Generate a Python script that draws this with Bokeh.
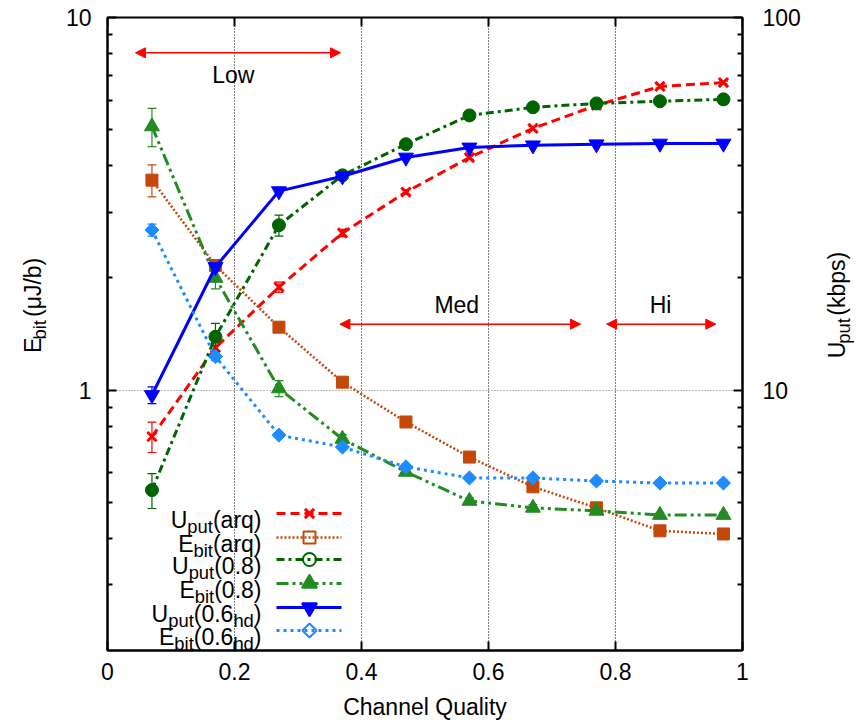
import math
from bokeh.plotting import figure
from bokeh.layouts import row
from bokeh.models import (Range1d, LogScale, LinearScale, LogAxis,
                          FixedTicker, BasicTickFormatter, Label, Arrow, NormalHead)
from bokeh.embed import file_html
from bokeh.resources import INLINE

# ---------------- data ----------------
x = [0.07, 0.17, 0.27, 0.37, 0.47, 0.57, 0.67, 0.77, 0.87, 0.97]

uput_arq = [7.5, 13.0, 18.9, 26.4, 34.0, 42.1, 50.4, 58.1, 65.3, 66.9]
uput_arq_err = [0.7, 0.5, 0.6, 0.6, 0.5, 0.5, 0.6, 0.6, 0.6, 0.6]
ebit_arq = [3.66, 2.16, 1.475, 1.05, 0.821, 0.661, 0.550, 0.483, 0.419, 0.411]
ebit_arq_err = [0.36, 0.08, 0.03, 0.02, 0.015, 0.01, 0.01, 0.01, 0.008, 0.008]
uput_08 = [5.39, 13.9, 27.7, 37.7, 45.7, 54.6, 57.4, 58.8, 59.6, 60.3]
uput_08_err = [0.58, 1.2, 1.8, 0.6, 0.5, 0.5, 0.5, 0.5, 0.5, 0.5]
ebit_08 = [5.10, 2.0, 1.01, 0.739, 0.603, 0.504, 0.483, 0.474, 0.462, 0.462]
ebit_08_err = [0.6, 0.13, 0.05, 0.02, 0.01, 0.01, 0.01, 0.01, 0.008, 0.008]
uput_06hd = [9.7, 21.4, 34.2, 37.5, 42.1, 44.8, 45.4, 45.7, 45.9, 45.9]
uput_06hd_err = [0.5, 0.4, 0.4, 0.4, 0.3, 0.3, 0.3, 0.3, 0.3, 0.3]
ebit_06hd = [2.69, 1.23, 0.757, 0.703, 0.622, 0.581, 0.581, 0.570, 0.563, 0.563]
ebit_06hd_err = [0.1, 0.03, 0.01, 0.01, 0.01, 0.01, 0.01, 0.01, 0.01, 0.01]

x_ticks = [0, 0.2, 0.4, 0.6, 0.8, 1]
x_tick_labels = ["0", "0.2", "0.4", "0.6", "0.8", "1"]
left_ticks = [1, 10]
left_tick_labels = ["1", "10"]
left_minor = [0.3, 0.4, 0.5, 0.6, 0.7, 0.8, 0.9, 2, 3, 4, 5, 6, 7, 8, 9]
right_ticks = [10, 100]
right_tick_labels = ["10", "100"]
right_minor = [3, 4, 5, 6, 7, 8, 9, 20, 30, 40, 50, 60, 70, 80, 90]

region_names = ["Low", "Med", "Hi"]
region_start = [0.044, 0.366, 0.786]
region_end = [0.367, 0.745, 0.958]
region_arrow_y = [8.04, 1.503, 1.503]
region_label_x = [0.198, 0.55, 0.871]
region_label_y = [7.03, 1.69, 1.69]

x_title = "Channel Quality"
left_title = [("E", 0), ("bit", 1), (" (μJ/b)", 0)]
right_title = [("U", 0), ("put", 1), (" (kbps)", 0)]

# ---------------- layout / style ----------------
FONT = "Liberation Sans"
FS = 23
SUB = 18.4
SUBOFF = 7
H = 724                      # canvas height
LW = 60                      # left title strip width
PW = 746                     # main figure width
RW = 50                      # right title strip width
FL, FT, FW, FH = 107, 17, 635, 633   # frame position on page
FB = FT + FH

W = {'U': 722, 'E': 667, 'p': 556, 'u': 556, 't': 278, 'b': 556, 'i': 222,
     '(': 333, ')': 333, 'a': 556, 'r': 333, 'q': 556, '0': 556, '.': 278,
     '8': 556, '6': 556, 'h': 556, 'd': 556, ' ': 278, 'μ': 576, 'J': 500,
     '/': 278, 'k': 500, 's': 500}


def tw(s, size):
    return sum(W.get(c, 556) for c in s) * size / 1000.0


p = figure(width=PW, height=H, frame_width=FW, frame_height=FH,
           min_border_left=FL - LW, min_border_right=PW - (FL - LW) - FW,
           min_border_top=FT, min_border_bottom=H - FB,
           x_range=Range1d(0, 1), y_range=Range1d(0.2, 10), y_axis_type="log",
           output_backend="svg", toolbar_location=None)
p.extra_y_ranges = {"right": Range1d(2, 100), "py": Range1d(0, FH)}
p.extra_x_ranges = {"px": Range1d(0, FW)}
p.extra_y_scales = {"right": LogScale(), "py": LinearScale()}
p.extra_x_scales = {"px": LinearScale()}

p.outline_line_color = "black"
p.outline_line_width = 2
p.background_fill_color = "white"
p.border_fill_color = "white"


def style_axis(ax, standoff):
    ax.axis_line_width = 2
    ax.major_tick_in = 9
    ax.major_tick_out = 0
    ax.minor_tick_in = 5
    ax.minor_tick_out = 0
    ax.major_tick_line_width = 2
    ax.minor_tick_line_width = 2
    ax.major_label_text_font = FONT
    ax.major_label_text_font_size = f"{FS}px"
    ax.major_label_text_color = "black"
    ax.major_label_standoff = standoff


xa = p.xaxis[0]
xa.ticker = FixedTicker(ticks=x_ticks)
xa.formatter = BasicTickFormatter()
xa.major_label_overrides = dict(zip(x_ticks, x_tick_labels))
style_axis(xa, 12)
xa.minor_tick_line_color = None
xa.axis_label = x_title
xa.axis_label_text_font = FONT
xa.axis_label_text_font_size = f"{FS}px"
xa.axis_label_text_font_style = "normal"
xa.axis_label_text_color = "black"
xa.axis_label_standoff = 11

ya = p.yaxis[0]
ya.ticker = FixedTicker(ticks=left_ticks, minor_ticks=left_minor)
ya.formatter = BasicTickFormatter()
ya.major_label_overrides = dict(zip(left_ticks, left_tick_labels))
style_axis(ya, 16)

ra = LogAxis(y_range_name="right", ticker=FixedTicker(ticks=right_ticks, minor_ticks=right_minor),
             formatter=BasicTickFormatter())
ra.major_label_overrides = dict(zip(right_ticks, right_tick_labels))
style_axis(ra, 20)
p.add_layout(ra, "right")

# mirrored major ticks on the top edge
p.segment(x0=x_ticks, y0=[FH] * len(x_ticks), x1=x_ticks, y1=[FH - 9] * len(x_ticks),
          line_color="black", line_width=2, y_range_name="py")

p.xgrid.ticker = FixedTicker(ticks=[0.2, 0.4, 0.6, 0.8])
p.xgrid.grid_line_color = "black"
p.xgrid.grid_line_dash = "1 2"
p.xgrid.grid_line_width = 1
p.ygrid.ticker = FixedTicker(ticks=[1])
p.ygrid.grid_line_color = "#777777"
p.ygrid.grid_line_dash = "1 2"
p.ygrid.grid_line_width = 1

# ---------------- series ----------------
series = [
    dict(lab=[("U", 0), ("put", 1), ("(arq)", 0)], y=uput_arq, e=uput_arq_err, rng="right",
         color="#ff0000", dash="9 5", lw=3, marker="x", size=13, angle=0, open=False),
    dict(lab=[("E", 0), ("bit", 1), ("(arq)", 0)], y=ebit_arq, e=ebit_arq_err, rng=None,
         color="#c4480a", dash="2 2", lw=2.5, marker="square", size=12, angle=0, open=True),
    dict(lab=[("U", 0), ("put", 1), ("(0.8)", 0)], y=uput_08, e=uput_08_err, rng="right",
         color="#006400", dash="8 4 3 4", lw=3, marker="circle", size=13, angle=0, open=True),
    dict(lab=[("E", 0), ("bit", 1), ("(0.8)", 0)], y=ebit_08, e=ebit_08_err, rng=None,
         color="#228b22", dash="12 4 3 4 3 4", lw=3, marker="triangle", size=15, angle=0, open=False),
    dict(lab=[("U", 0), ("put", 1), ("(0.6", 0), ("hd", 1), (")", 0)], y=uput_06hd, e=uput_06hd_err,
         rng="right", color="#0000ff", dash="solid", lw=3, marker="inverted_triangle", size=15,
         angle=0, open=False),
    dict(lab=[("E", 0), ("bit", 1), ("(0.6", 0), ("hd", 1), (")", 0)], y=ebit_06hd, e=ebit_06hd_err,
         rng=None, color="#1e8cff", dash="3 4", lw=3, marker="square", size=10,
         angle=math.pi / 4, open=True),
]

CAP = 0.007
for s in series:
    kw = {"y_range_name": s["rng"]} if s["rng"] else {}
    lo = [v - e for v, e in zip(s["y"], s["e"])]
    hi = [v + e for v, e in zip(s["y"], s["e"])]
    c = s["color"]
    p.segment(x0=x, y0=lo, x1=x, y1=hi, line_color=c, line_width=1.2, **kw)
    p.segment(x0=[v - CAP for v in x], y0=lo, x1=[v + CAP for v in x], y1=lo,
              line_color=c, line_width=1.2, **kw)
    p.segment(x0=[v - CAP for v in x], y0=hi, x1=[v + CAP for v in x], y1=hi,
              line_color=c, line_width=1.2, **kw)
    p.line(x, s["y"], line_color=c, line_width=s["lw"], line_dash=s["dash"], **kw)
    p.scatter(x, s["y"], marker=s["marker"], size=s["size"], angle=s["angle"],
              fill_color=c, line_color=c, line_width=3 if s["marker"] == "x" else 1, **kw)


def label(fig, xp, yp, text, size, angle=0.0, align="left", baseline="alphabetic", frame=True):
    if frame:
        lx, ly = xp - FL, FB - yp
        kw = dict(x_units="screen", y_units="screen")
    else:
        lx, ly = xp, H - yp
        kw = {}
    fig.add_layout(Label(x=lx, y=ly, text=text, text_font=FONT, text_font_size=f"{size}px",
                         text_color="black", text_align=align, text_baseline=baseline,
                         angle=angle, **kw))


def split_lead(t, size):
    stripped = t.lstrip(" ")
    return stripped, tw(t[:len(t) - len(stripped)], size)


def rich_h(fig, pieces, right, base):
    total = sum(tw(t, SUB if sb else FS) for t, sb in pieces)
    xp = right - total
    for t, sb in pieces:
        size = SUB if sb else FS
        txt, lead = split_lead(t, size)
        label(fig, xp + lead, base + (SUBOFF if sb else 0), txt, size)
        xp += tw(t, size)


def rich_v(fig, pieces, xbase, yc):
    total = sum(tw(t, SUB if sb else FS) for t, sb in pieces)
    yp = yc + total / 2
    for t, sb in pieces:
        size = SUB if sb else FS
        txt, lead = split_lead(t, size)
        label(fig, xbase + (SUBOFF if sb else 0), yp - lead, txt, size,
              angle=math.pi / 2, frame=False)
        yp -= tw(t, size)


# ---------------- legend ----------------
row_y = [513, 537, 559, 583, 607, 630]
for s, ry in zip(series, row_y):
    yy = FB - ry
    p.line([276 - FL, 341 - FL], [yy, yy], line_color=s["color"], line_width=s["lw"],
           line_dash=s["dash"], x_range_name="px", y_range_name="py")
    p.scatter([309 - FL], [yy], marker=s["marker"], size=s["size"], angle=s["angle"],
              fill_color=None if s["open"] else s["color"], line_color=s["color"],
              line_width=3 if s["marker"] == "x" else 2, x_range_name="px", y_range_name="py")
    rich_h(p, s["lab"], 261, ry + 6)

# ---------------- regions ----------------
for name, xs, xe, ay, lx, ly in zip(region_names, region_start, region_end, region_arrow_y,
                                    region_label_x, region_label_y):
    p.add_layout(Arrow(x_start=xs, y_start=ay, x_end=xe, y_end=ay, line_color="#ff0000",
                       line_width=1.5,
                       start=NormalHead(size=10, fill_color="#ff0000", line_color="#ff0000"),
                       end=NormalHead(size=10, fill_color="#ff0000", line_color="#ff0000")))
    p.add_layout(Label(x=lx, y=ly, text=name, text_font=FONT, text_font_size=f"{FS}px",
                       text_align="center", text_baseline="middle", text_color="black"))


# ---------------- side strips for the rotated axis titles ----------------
def strip(width):
    f = figure(width=width, height=H, x_range=Range1d(0, width), y_range=Range1d(0, H),
               min_border=0, min_border_left=0, min_border_right=0, min_border_top=0,
               min_border_bottom=0, x_axis_location=None, y_axis_location=None,
               output_backend="svg", toolbar_location=None)
    f.outline_line_color = None
    f.grid.visible = False
    f.background_fill_color = "white"
    f.border_fill_color = "white"
    return f


lf = strip(LW)
rich_v(lf, left_title, 32, (FT + FB) / 2)
rf = strip(RW)
rich_v(rf, right_title, 836 - (LW + PW), (FT + FB) / 2)

layout = row(lf, p, rf)
open("out.html", "w").write(file_html(layout, INLINE))
